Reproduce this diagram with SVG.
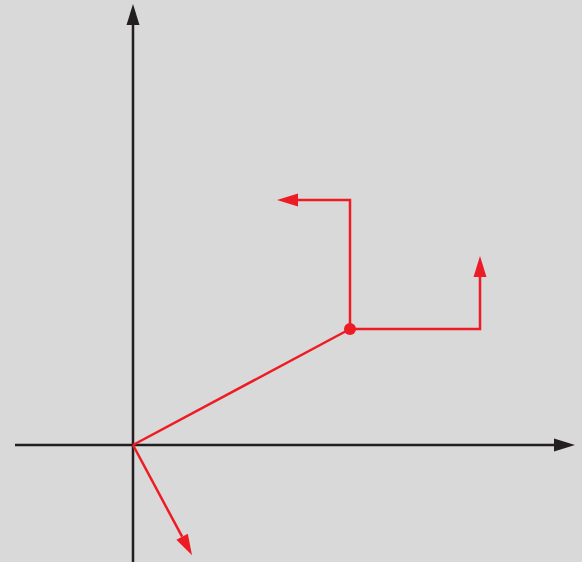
<svg xmlns="http://www.w3.org/2000/svg" width="582" height="562" viewBox="0 0 582 562">
<style>
.axis{stroke:#231f20;stroke-width:2.5;fill:none}
.vec{stroke:#ed1c24;stroke-width:2.5;fill:none}
</style>
<defs>
<marker id="ha" markerUnits="userSpaceOnUse" markerWidth="24" markerHeight="14" viewBox="0 -7 22 14" refX="0" refY="0" orient="auto"><path d="M0,-6.5 L21,0 L0,6.5 z" fill="#231f20"/></marker>
<marker id="hr" markerUnits="userSpaceOnUse" markerWidth="24" markerHeight="14" viewBox="0 -7 22 14" refX="0" refY="0" orient="auto"><path d="M0,-6.5 L21,0 L0,6.5 z" fill="#ed1c24"/></marker>
</defs>
<rect width="582" height="562" fill="#d9d9d9"/>
<g id="connectors">
<line id="y-axis" class="axis" x1="133" y1="562" x2="133" y2="25" marker-end="url(#ha)"/>
<line id="x-axis" class="axis" x1="15" y1="445" x2="554" y2="445" marker-end="url(#ha)"/>
<line id="radius" class="vec" x1="133" y1="445" x2="350" y2="329"/>
<line id="down" class="vec" x1="133" y1="445" x2="182.1" y2="536.7" marker-end="url(#hr)"/>
<polyline id="right-up" class="vec" points="350,329 480,329 480,277" marker-end="url(#hr)"/>
<polyline id="up-left" class="vec" points="350,329 350,200 298,200" marker-end="url(#hr)"/>
</g>
<g id="point">
<circle cx="350" cy="329" r="6" fill="#ed1c24"/>
</g>
</svg>
